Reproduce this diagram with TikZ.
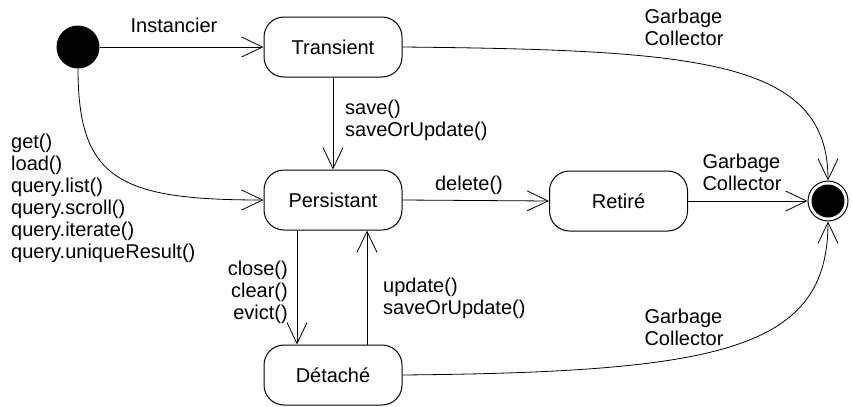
\documentclass[tikz,border=0pt]{standalone}
\usepackage{fontspec}
\setmainfont{Liberation Sans}
\usetikzlibrary{arrows.meta}
\tikzset{
  statebox/.style={draw, line width=1pt, rounded corners=20pt, minimum width=138pt, minimum height=60pt, inner sep=0pt, font=\fontsize{20}{22}\selectfont},
  lbl/.style={inner sep=0pt, font=\fontsize{20}{22}\selectfont},
  trans/.style={line width=0.8pt, -{Straight Barb[length=21pt,width=20pt,line width=0.8pt]}}
}
\begin{document}
\begin{tikzpicture}[x=1pt,y=-1pt]
\useasboundingbox (0,0) rectangle (852,407);
% states
\node[circle, fill=black, minimum size=43pt, inner sep=0pt] (init) at (78,47) {};
\node[statebox] (tran) at (333,47) {Transient};
\node[statebox] (pers) at (333,200) {Persistant};
\node[statebox] (ret) at (618.5,201) {Retiré};
\node[statebox] (det) at (333,375) {Détaché};
\node[circle, draw, line width=1pt, minimum size=40pt, inner sep=0pt] (fin) at (828,201) {};
\fill (fin.center) circle (16.5pt);
% transitions
\draw[trans] (init.east) -- (tran.west);
\draw[trans] (tran.south) -- (pers.north);
\draw[trans] (init.south) .. controls (78,180) and (120,200) .. (pers.west);
\draw[trans] (pers.east) -- (ret.west);
\draw[trans] (ret.east) -- (fin.west);
\draw[trans] ([xshift=-36pt]pers.south) -- ([xshift=-36pt]det.north);
\draw[trans] ([xshift=34pt]det.north) -- ([xshift=34pt]pers.south);
\draw[trans] (tran.east) .. controls (700,50) and (828,60) .. (fin.north);
\draw[trans] (det.east) .. controls (720,372) and (828,350) .. (fin.south);
% labels
\node[lbl] (l1) at (174,25) {Instancier};
\node[lbl, anchor=north west, align=left] (l2) at (345,100) {save()\\saveOrUpdate()};
\node[lbl, anchor=north west, align=left] (l3) at (11,134) {get()\\load()\\query.list()\\query.scroll()\\query.iterate()\\query.uniqueResult()};
\node[lbl] (l4) at (469,185) {delete()};
\node[lbl, align=left] (l5) at (742,172) {Garbage\\Collector};
\node[lbl, align=left] (l6) at (684,27) {Garbage\\Collector};
\node[lbl, align=left] (l7) at (684,327) {Garbage\\Collector};
\node[lbl, anchor=east, align=right] (l8) at (288,292) {close()\\clear()\\evict()};
\node[lbl, anchor=west, align=left] (l9) at (383,298) {update()\\saveOrUpdate()};
\end{tikzpicture}
\end{document}
